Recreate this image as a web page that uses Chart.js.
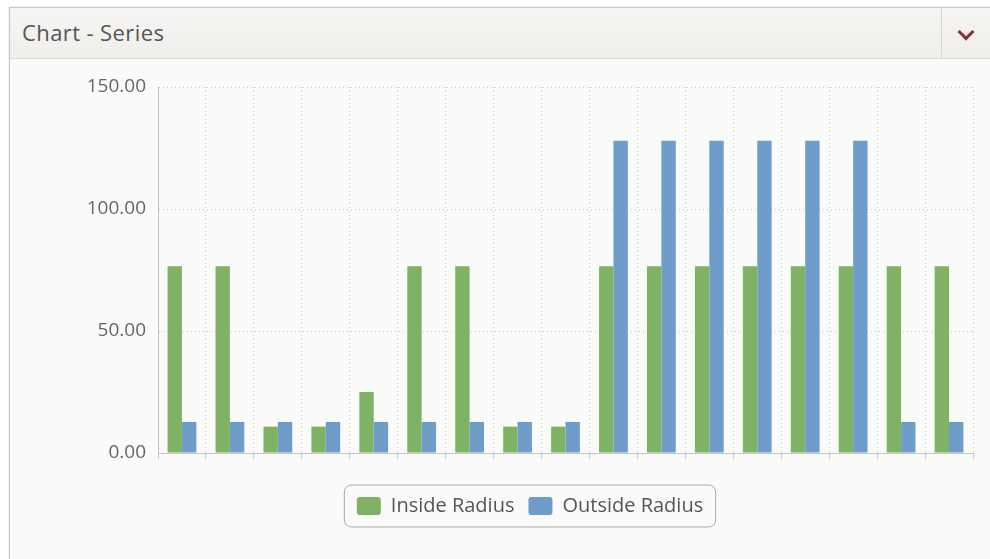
<!DOCTYPE html>
<html>
<head>
<meta charset="utf-8">
<script src="https://cdn.jsdelivr.net/npm/chart.js@4/dist/chart.umd.min.js"></script>
<style>
  html, body { margin: 0; padding: 0; background: #fff; }
  body { width: 990px; height: 559px; position: relative; overflow: hidden; font-family: "Open Sans", sans-serif; }
  .panel { position: absolute; left: 9px; top: 7px; width: 980px; height: 560px; border: 1px solid #c9c7c3; background: #fafaf8; box-shadow: 0 0 2px rgba(0,0,0,0.15); }
  .head { position: absolute; left: 0; top: 0; right: 0; height: 50px; background: linear-gradient(#f6f5f3, #efeeeb); border-bottom: 1px solid #dcdad6; }
  .title { position: absolute; left: 12px; top: 9px; font-size: 22px; letter-spacing: 0.4px; color: #555; }
  .toggle { position: absolute; right: 0; top: 0; width: 48px; height: 50px; border-left: 1px solid #d6d4d0; }
  .chev { position: absolute; left: 18px; top: 18px; width: 9px; height: 9px; border-right: 3.5px solid #8e2c2c; border-bottom: 3.5px solid #8e2c2c; transform: rotate(45deg); }
  .wrap { position: absolute; left: 10px; top: 58px; width: 978px; height: 501px; }
</style>
</head>
<body>
<div class="panel">
  <div class="head">
    <div class="title">Chart - Series</div>
    <div class="toggle"><div class="chev"></div></div>
  </div>
</div>
<div class="wrap"><canvas id="chartCanvas"></canvas></div>
<script>
(function() {
  'use strict';

  var categories = ['1', '2', '3', '4', '5', '6', '7', '8', '9', '10', '11', '12', '13', '14', '15', '16', '17'];
  var insideRadius = [76.5, 76.5, 10.8, 10.8, 25, 76.5, 76.5, 10.8, 10.8, 76.5, 76.5, 76.5, 76.5, 76.5, 76.5, 76.5, 76.5];
  var outsideRadius = [12.7, 12.7, 12.7, 12.7, 12.7, 12.7, 12.7, 12.7, 12.7, 128, 128, 128, 128, 128, 128, 12.7, 12.7];
  var yTicks = [0, 50, 100, 150];

  var legendFrame = {
    id: 'legendFrame',
    afterDraw: function(chart) {
      var boxes = chart.legend && chart.legend.legendHitBoxes;
      if (!boxes || !boxes.length) return;
      var left = boxes[0].left, right = 0, top = boxes[0].top, bottom = 0;
      boxes.forEach(function(b) {
        left = Math.min(left, b.left);
        right = Math.max(right, b.left + b.width);
        top = Math.min(top, b.top);
        bottom = Math.max(bottom, b.top + b.height);
      });
      var cy = (top + bottom) / 2;
      var ctx = chart.ctx;
      ctx.save();
      ctx.strokeStyle = '#a9a9a9';
      ctx.lineWidth = 1;
      ctx.beginPath();
      ctx.roundRect(left - 12.5, cy - 21, right - left + 25, 42, 7);
      ctx.stroke();
      ctx.restore();
    }
  };

  var ctx = document.getElementById('chartCanvas').getContext('2d');
  new Chart(ctx, {
    type: 'bar',
    data: {
      labels: categories,
      datasets: [{
        label: 'Inside Radius',
        data: insideRadius,
        backgroundColor: '#80b266',
        barPercentage: 1,
        categoryPercentage: 0.6
      }, {
        label: 'Outside Radius',
        data: outsideRadius,
        backgroundColor: '#6f9cc8',
        barPercentage: 1,
        categoryPercentage: 0.6
      }]
    },
    options: {
      responsive: true,
      maintainAspectRatio: false,
      animation: false,
      layout: { padding: { left: 77, right: 15, top: 29, bottom: 33 } },
      plugins: {
        tooltip: { enabled: false },
        legend: {
          position: 'bottom',
          labels: {
            font: { family: 'Open Sans', size: 20 },
            color: '#555',
            boxWidth: 24,
            boxHeight: 18,
            padding: 14,
            useBorderRadius: true,
            borderRadius: 3
          }
        }
      },
      scales: {
        x: {
          grid: {
            offset: true,
            color: '#c8c8c8',
            tickColor: '#c8c8c8',
            tickLength: 6,
            tickBorderDash: [],
            drawTicks: true
          },
          border: { display: true, color: '#c4c4c4', dash: [1, 3] },
          ticks: { display: false },
          afterFit: function(scale) { scale.height = 29; }
        },
        y: {
          min: 0,
          max: 150,
          afterBuildTicks: function(scale) {
            scale.ticks = yTicks.map(function(v) { return { value: v }; });
          },
          grid: { color: '#c8c8c8', drawTicks: false },
          border: { display: true, color: '#c4c4c4', dash: [1, 3] },
          ticks: {
            padding: 12,
            color: '#666',
            font: { family: 'Open Sans', size: 19 },
            callback: function(v) { return Number(v).toFixed(2); }
          },
          afterFit: function(scale) { scale.width = 71; }
        }
      }
    },
    plugins: [legendFrame]
  });
})();
</script>
</body>
</html>
